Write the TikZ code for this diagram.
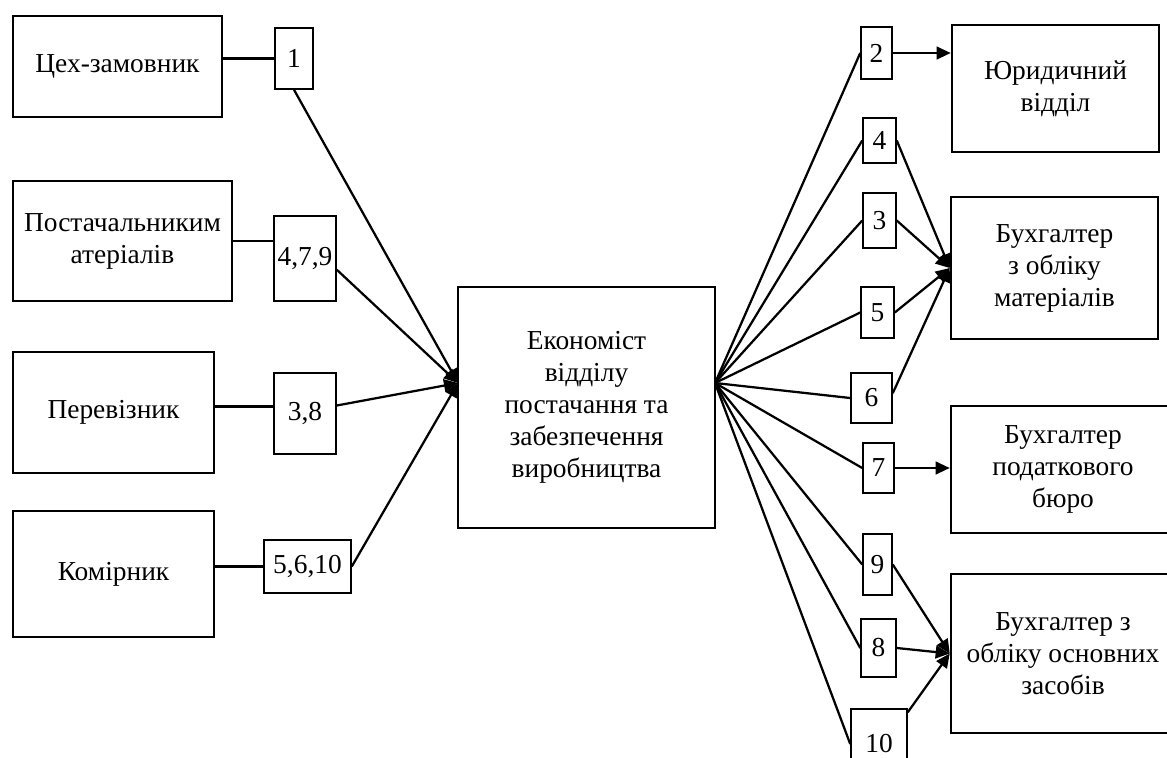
\documentclass[tikz,border=0pt]{standalone}
\usepackage{fontspec}
\setmainfont{Liberation Serif}
\usetikzlibrary{arrows.meta}

\begin{document}
\begin{tikzpicture}[
   font=\fontsize{19.5}{22.8}\selectfont,
   bigbox/.style={draw, line width=1.8pt, align=center, inner sep=2pt},
   numbox/.style={draw, line width=1.1pt, inner sep=1pt},
   link/.style={line width=1.6pt},
   arr/.style={line width=1.6pt, -{Triangle[length=10pt, width=9pt]}}
]
   \useasboundingbox (0, 0) rectangle (29.175, -18.925);

   \draw (2.9375, -1.6625) node[bigbox, minimum width=5.225cm, minimum height=2.525cm] (tsekh) {Цех-замовник};
   \draw (3.0625, -6.025) node[bigbox, minimum width=5.475cm, minimum height=3cm] (postach) {Постачальниким\\атеріалів};
   \draw (2.8375, -10.3125) node[bigbox, minimum width=5.025cm, minimum height=3.025cm] (perev) {Перевізник};
   \draw (2.8375, -14.35) node[bigbox, minimum width=5.025cm, minimum height=3.15cm] (komir) {Комірник};

   \draw (7.35, -1.4625) node[numbox, minimum width=0.95cm, minimum height=1.525cm] (n1) {1};
   \draw (7.625, -6.4625) node[numbox, minimum width=1.55cm, minimum height=2.125cm] (n479) {4,7,9};
   \draw (7.625, -10.3375) node[numbox, minimum width=1.55cm, minimum height=2.025cm] (n38) {3,8};
   \draw (7.6875, -14.1625) node[numbox, minimum width=2.175cm, minimum height=1.325cm] (n5610) {5,6,10};

   \draw (14.6625, -10.1875) node[bigbox, minimum width=6.425cm, minimum height=6.025cm] (econ) {Економіст\\відділу\\постачання та\\забезпечення\\виробництва};
   \coordinate (inL) at (11.45, -9.575);
   \coordinate (outR) at (17.875, -9.575);

   \draw (21.9125, -1.325) node[numbox, minimum width=0.775cm, minimum height=1.3cm] (n2) {2};
   \draw (21.9875, -3.5125) node[numbox, minimum width=0.825cm, minimum height=1.125cm] (n4) {4};
   \draw (21.9875, -5.5125) node[numbox, minimum width=0.825cm, minimum height=1.375cm] (n3) {3};
   \draw (21.9375, -7.8125) node[numbox, minimum width=0.825cm, minimum height=1.275cm] (n5) {5};
   \draw (21.7875, -9.95) node[numbox, minimum width=1.025cm, minimum height=1.25cm] (n6) {6};
   \draw (21.9625, -11.7) node[numbox, minimum width=0.775cm, minimum height=1.25cm] (n7) {7};
   \draw (21.9375, -14.1125) node[numbox, minimum width=0.725cm, minimum height=1.525cm] (n9) {9};
   \draw (21.9625, -16.2) node[numbox, minimum width=0.875cm, minimum height=1.45cm] (n8) {8};
   \draw (21.975, -18.6) node[numbox, minimum width=1.4cm, minimum height=1.75cm] (n10) {10};

   \draw (26.3875, -2.2125) node[bigbox, minimum width=5.175cm, minimum height=3.175cm] (yuryd) {Юридичний\\відділ};
   \draw (26.3625, -6.7) node[bigbox, minimum width=5.175cm, minimum height=3.55cm] (buxmat) {Бухгалтер\\з обліку\\матеріалів};
   \draw (26.575, -11.7375) node[bigbox, minimum width=5.6cm, minimum height=3.175cm] (buxpod) {Бухгалтер\\податкового\\бюро};
   \draw (26.575, -16.3375) node[bigbox, minimum width=5.6cm, minimum height=3.975cm] (buxoz) {Бухгалтер з\\обліку основних\\засобів};

   \draw[link] (n1.west -| tsekh.east) -- (n1.west);
   \draw[link] (postach.east) -- (postach.east -| n479.west);
   \draw[link] ([yshift=0.15cm]perev.east) -- ([yshift=0.15cm]perev.east -| n38.west);
   \draw[link] (n5610.west -| komir.east) -- (n5610.west);

   \draw[arr] (n1.south) -- (inL);
   \draw[arr] ([yshift=-0.28cm]n479.east) -- (inL);
   \draw[arr] ([yshift=0.2cm]n38.east) -- (inL);
   \draw[arr] (n5610.east) -- (inL);

   \foreach \n in {n2, n4, n3, n5, n6, n7, n9, n8, n10}
      \draw[link] (outR) -- (\n.west);

   \draw[arr] (n2.east) -- (n2.east -| yuryd.west);
   \draw[arr] (n4.east) -- (buxmat.west);
   \draw[arr] (n3.east) -- (buxmat.west);
   \draw[arr] (n5.east) -- (buxmat.west);
   \draw[arr] ([yshift=0.12cm]n6.east) -- (buxmat.west);
   \draw[arr] (n7.east) -- (n7.east -| buxpod.west);
   \draw[arr] (n9.east) -- (buxoz.west);
   \draw[arr] (n8.east) -- (buxoz.west);
   \draw[arr] ([yshift=-0.1cm]n10.north east) -- (buxoz.west);
\end{tikzpicture}
\end{document}
